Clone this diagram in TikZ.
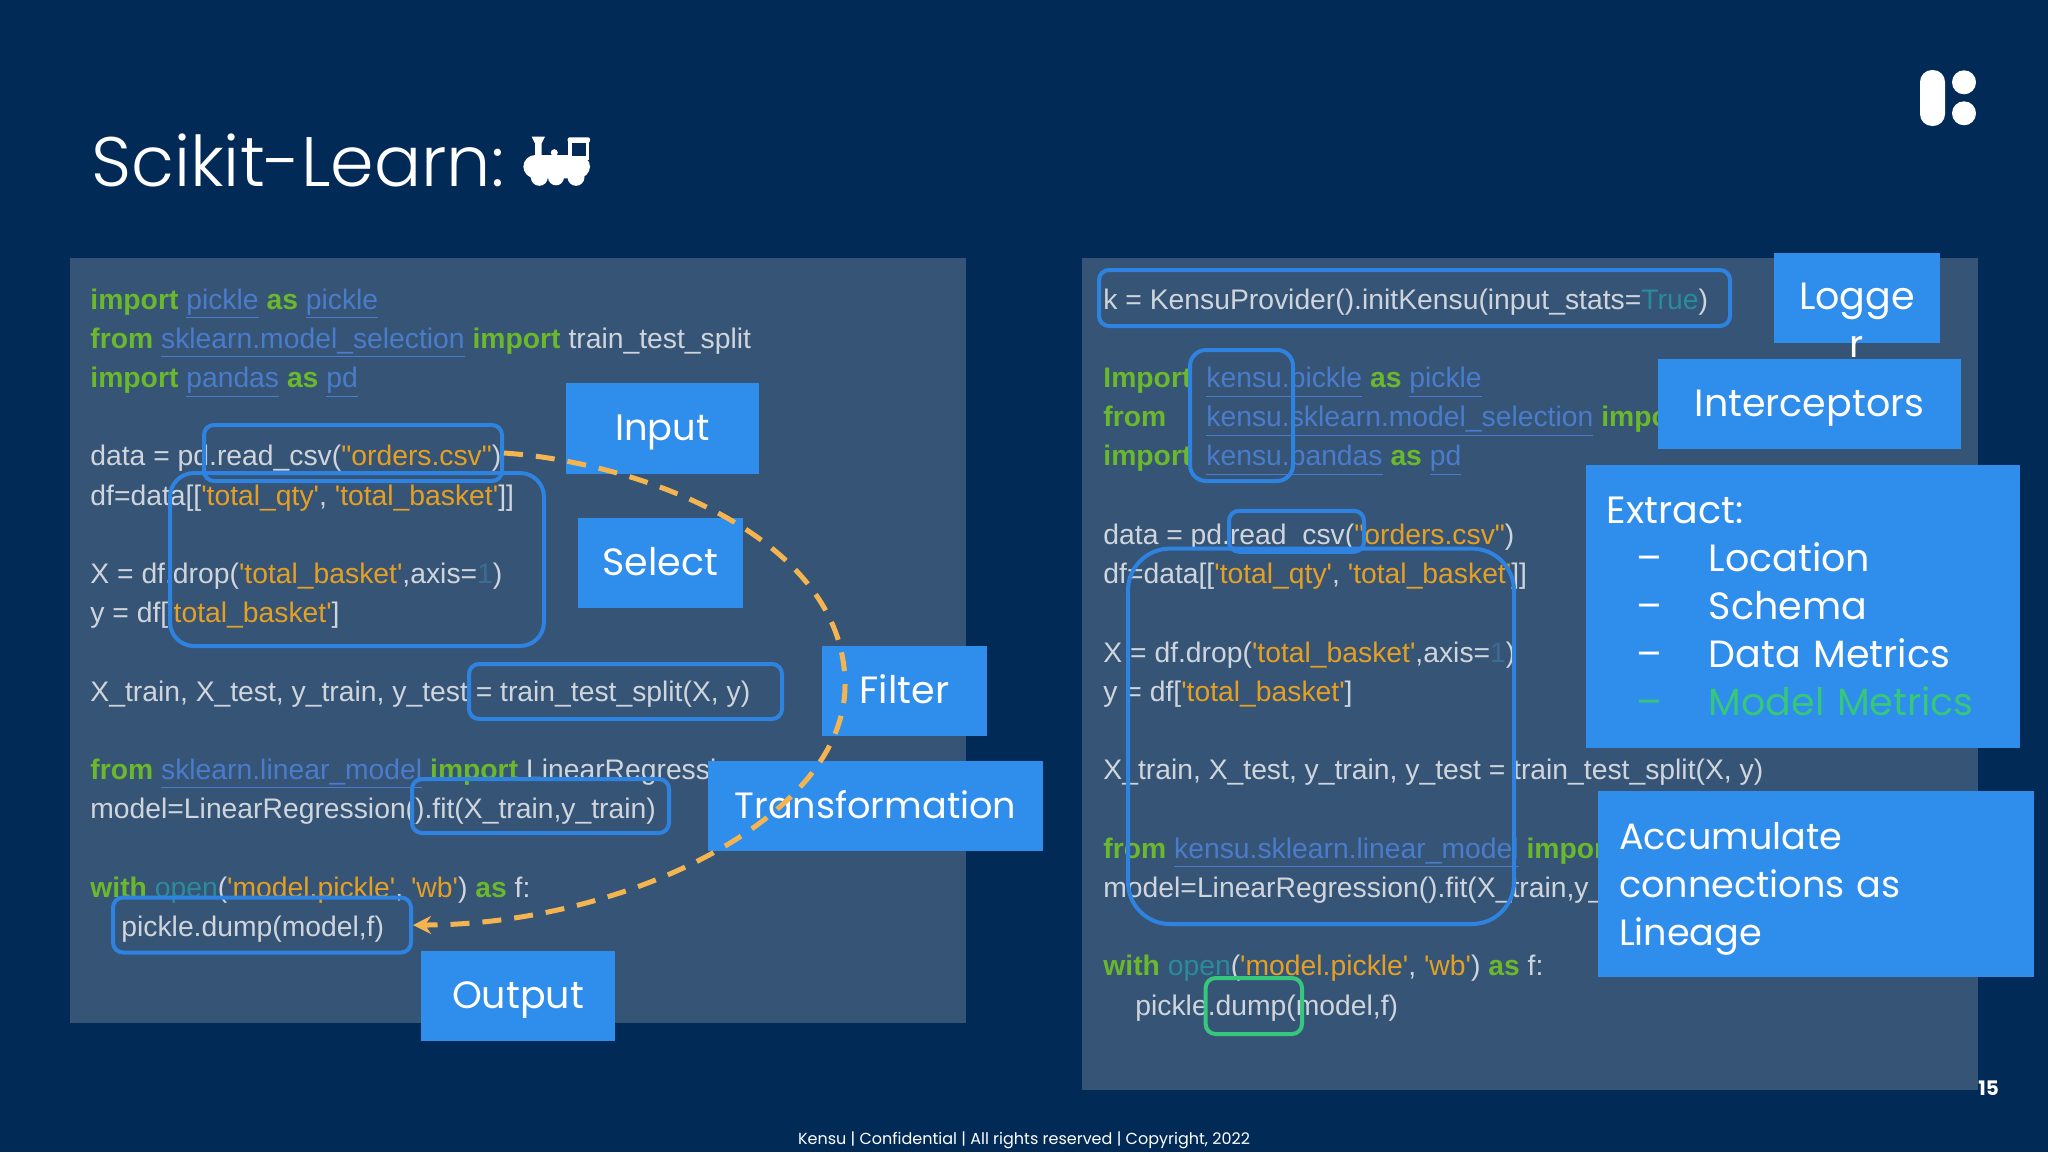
\documentclass[tikz,border=0pt]{standalone}
\usepackage{fontspec}
\usetikzlibrary{arrows.meta}
\newfontfamily\codefont{Liberation Sans}
\newfontfamily\headfont{Poppins}
\newfontfamily\titlefont{Poppins Light}
\definecolor{bgblue}{HTML}{022A57}
\definecolor{panelblue}{HTML}{365475}
\definecolor{lblblue}{HTML}{2F8DEC}
\definecolor{hlblue}{HTML}{2E83E0}
\definecolor{codewhite}{HTML}{CFD5DC}
\definecolor{kwgreen}{HTML}{6BB82C}
\definecolor{linkblue}{HTML}{4A7CCB}
\definecolor{strorange}{HTML}{E5A024}
\definecolor{constteal}{HTML}{2A8C9A}
\definecolor{numblue}{HTML}{3C6C94}
\definecolor{mintgreen}{HTML}{36C67C}
\definecolor{dashorange}{HTML}{F4B550}
\newcommand{\kwd}[1]{\textcolor{kwgreen}{\textbf{#1}}}
\newcommand{\lnk}[1]{\textcolor{linkblue}{\underline{#1}}}
\newcommand{\strg}[1]{\textcolor{strorange}{#1}}
\newcommand{\cst}[1]{\textcolor{constteal}{#1}}
\newcommand{\num}[1]{\textcolor{numblue}{#1}}
\tikzset{
    code/.style={anchor=base west,inner sep=0pt,text=codewhite,font=\codefont\fontsize{14.15}{17}\selectfont},
    lbl/.style={fill=lblblue,text=white,inner sep=0pt,font=\headfont\fontsize{19}{24}\selectfont},
    oneline/.style={text height=14pt,text depth=2pt},
    hl/.style={draw=hlblue,line width=2pt,inner sep=0pt,rounded corners=5pt}
}
\begin{document}
\begin{tikzpicture}[x=0.5pt,y=-0.5pt]
    % Slide background
    \useasboundingbox (0,0) rectangle (2048,1152);
    \fill[bgblue] (0,0) rectangle (2048,1152);

    % Title
    \node[anchor=base west,inner sep=0pt,text=white,font=\titlefont\fontsize{35}{40}\selectfont] (title) at (91,186) {Scikit-Learn:};

    % Train
    \fill[white] (531.7,136.7) -- (545,136.7) -- (541.7,143.3) -- (541.7,157) -- (535,157) -- (535,143.3) -- cycle;
    \fill[white,rounded corners=6pt] (523.3,155) rectangle (590,178.3);
    \fill[white] (554.3,152.7) circle (3.5);
    \fill[white] (539.3,177.3) circle (8.5);
    \fill[white] (556,177.3) circle (8);
    \fill[white] (576,177.3) circle (8.5);
    \fill[white] (568.3,142) rectangle (589.3,160);
    \fill[white,rounded corners=1pt] (567.7,137.3) rectangle (590,142.7);
    \fill[bgblue] (571.7,142.7) rectangle (586,156);

    % Logo
    \fill[white,rounded corners=6pt] (1920,70) rectangle (1945,126);
    \fill[white] (1964,82.3) circle (12);
    \fill[white] (1964,113.3) circle (12);

    % Panels
    \fill[panelblue] (70,257.5) rectangle (966,1023);
    \fill[panelblue] (1082,258) rectangle (1978,1090);

    % Left code
    \node[code] (la) at (90,309) {\kwd{import} \lnk{pickle} \kwd{as} \lnk{pickle}};
    \node[code] (lb) at (90,348.2) {\kwd{from} \lnk{sklearn.model\_selection} \kwd{import} train\_test\_split};
    \node[code] (lc) at (90,387.4) {\kwd{import} \lnk{pandas} \kwd{as} \lnk{pd}};
    \node[code] (ld) at (90,465.8) {data = pd.read\_csv(\strg{"orders.csv"})};
    \node[code] (le) at (90,505) {df=data[[\strg{'total\_qty'}, \strg{'total\_basket'}]]};
    \node[code] (lf) at (90,583.4) {X = df.drop(\strg{'total\_basket'},axis=\num{1})};
    \node[code] (lg) at (90,622.6) {y = df[\strg{'total\_basket'}]};
    \node[code] (lh) at (90,701) {X\_train, X\_test, y\_train, y\_test = train\_test\_split(X, y)};
    \node[code] (li) at (90,779.4) {\kwd{from} \lnk{sklearn.linear\_model} \kwd{import} LinearRegression};
    \node[code] (lj) at (90,818.6) {model=LinearRegression().fit(X\_train,y\_train)};
    \node[code] (lk) at (90,897) {\kwd{with} \cst{open}(\strg{'model.pickle'}, \strg{'wb'}) \kwd{as} f:};
    \node[code] (ll) at (121,936.2) {pickle.dump(model,f)};

    % Right code
    \node[code] (ra) at (1103,309.5) {k = KensuProvider().initKensu(input\_stats=\cst{True})};
    \node[code] (rb) at (1103,387.5) {\makebox[51.5pt][l]{\kwd{Import}}\lnk{kensu.pickle} \kwd{as} \lnk{pickle}};
    \node[code] (rc) at (1103,426.7) {\makebox[51.5pt][l]{\kwd{from}}\lnk{kensu.sklearn.model\_selection} \kwd{import} train\_test\_split};
    \node[code] (rd) at (1103,465.9) {\makebox[51.5pt][l]{\kwd{import}}\lnk{kensu.pandas} \kwd{as} \lnk{pd}};
    \node[code] (re) at (1103,544.7) {data = pd.read\_csv(\strg{"orders.csv"})};
    \node[code] (rf) at (1103,583.9) {df=data[[\strg{'total\_qty'}, \strg{'total\_basket'}]]};
    \node[code] (rg) at (1103,662.3) {X = df.drop(\strg{'total\_basket'},axis=\num{1})};
    \node[code] (rh) at (1103,701.5) {y = df[\strg{'total\_basket'}]};
    \node[code] (ri) at (1103,779.9) {X\_train, X\_test, y\_train, y\_test = train\_test\_split(X, y)};
    \node[code] (rj) at (1103,858.3) {\kwd{from} \lnk{kensu.sklearn.linear\_model} \kwd{import} LinearRegression};
    \node[code] (rk) at (1103,897.5) {model=LinearRegression().fit(X\_train,y\_train)};
    \node[code] (rl) at (1103,975.9) {\kwd{with} \cst{open}(\strg{'model.pickle'}, \strg{'wb'}) \kwd{as} f:};
    \node[code] (rm) at (1135,1015.1) {pickle.dump(model,f)};

    % Left highlight boxes
    \node[hl,minimum width=149pt,minimum height=28pt] (readbox) at (353,453) {};
    \node[hl,rounded corners=12pt,minimum width=187pt,minimum height=86.5pt] (prepbox) at (357,559.5) {};
    \node[hl,minimum width=156.5pt,minimum height=27.5pt] (splitbox) at (625.5,691.5) {};
    \node[hl,minimum width=128.5pt,minimum height=27pt] (fitbox) at (540.5,806) {};
    \node[hl,minimum width=149pt,minimum height=27.5pt] (dumpbox) at (262,925) {};

    % Right highlight boxes
    \node[hl,minimum width=315.5pt,minimum height=28pt] (kensubox) at (1414.5,298) {};
    \node[hl,rounded corners=8pt,minimum width=51.5pt,minimum height=65.5pt] (importbox) at (1241.5,415.5) {};
    \node[hl,minimum width=67.5pt,minimum height=20.5pt] (csvbox) at (1296.5,531.3) {};
    \node[hl,rounded corners=21pt,minimum width=193pt,minimum height=187.7pt] (allbox) at (1321,736.3) {};
    \node[hl,draw=mintgreen,minimum width=48.2pt,minimum height=28pt] (savebox) at (1253.8,1006) {};

    % Left labels
    \node[lbl,oneline,font=\headfont\fontsize{18.4}{24}\selectfont,minimum width=96.5pt,minimum height=45.3pt] (input) at (662.5,428.3) {Input};
    \node[lbl,oneline,minimum width=82.5pt,minimum height=45pt] (select) at (660.5,563) {Select};
    \node[lbl,oneline,minimum width=82.5pt,minimum height=45pt] (filter) at (904.5,691) {Filter};
    \node[lbl,oneline,font=\headfont\fontsize{18.3}{24}\selectfont,minimum width=167.5pt,minimum height=45pt] (transform) at (875.5,806) {Transformation};
    \node[lbl,oneline,minimum width=97pt,minimum height=45pt] (output) at (518,996) {Output};

    % Right labels
    \node[lbl,minimum width=83pt,minimum height=44.8pt] (logger) at (1857,297.8) {};
    \node[inner sep=0pt,align=center,text=white,font=\headfont\fontsize{19}{24}\selectfont,anchor=base] (loggertext) at (1857,357) {Logge\\r};
    \node[lbl,oneline,minimum width=151.5pt,minimum height=45pt] (intercept) at (1809.5,404) {Interceptors};
    \node[lbl,minimum width=217.3pt,minimum height=141.5pt,text width=196pt,align=left] (extract) at (1802.8,606.5) {Extract:\\\hspace*{15pt}\makebox[36pt][l]{–}Location\\\hspace*{15pt}\makebox[36pt][l]{–}Schema\\\hspace*{15pt}\makebox[36pt][l]{–}Data Metrics\\\hspace*{15pt}\textcolor{mintgreen}{\makebox[36pt][l]{–}Model Metrics}};
    \node[lbl,font=\headfont\fontsize{18.3}{24}\selectfont,minimum width=218pt,minimum height=93pt,text width=197pt,align=left] (lineage) at (1816,884) {\rule{0pt}{18pt}Accumulate\\connections as\\Lineage};

    % Flow from input to output
    \draw[dashorange,line width=2.5pt,dash pattern=on 9.5pt off 6.5pt,-{Stealth[length=9pt,width=9pt]}] (readbox.east) .. controls (639,462) and (845,537) .. (845,685) .. controls (845,820) and (620,925) .. (dumpbox.east);

    % Footer
    \node[anchor=base,inner sep=0pt,text=white,font=\headfont\fontsize{8}{10}\selectfont] (footer) at (1024,1144) {Kensu | Confidential | All rights reserved | Copyright, 2022};
    \node[anchor=base,inner sep=0pt,text=white,font=\headfont\bfseries\fontsize{10}{12}\selectfont] (pageno) at (1988.5,1095) {15};
\end{tikzpicture}
\end{document}
